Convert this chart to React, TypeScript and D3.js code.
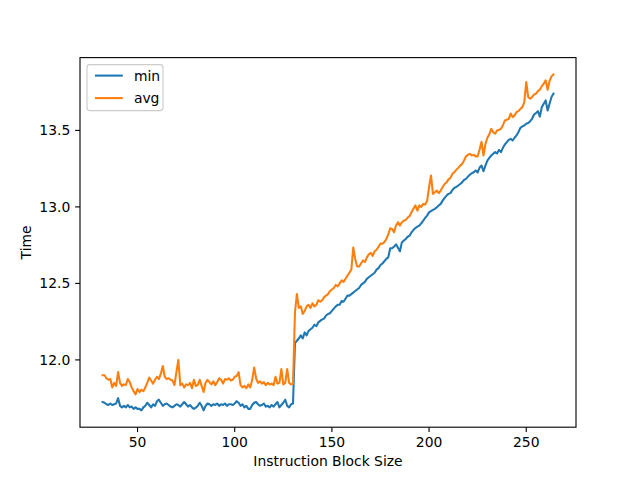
import React from "react";
import * as d3 from "d3";

const blockSizes: number[] = d3.range(32, 265);

const minTime: number[] = [
  // 32-79
  11.725, 11.72, 11.71, 11.705, 11.715, 11.705, 11.71, 11.715, 11.75, 11.70,
  11.69, 11.70, 11.69, 11.705, 11.69, 11.695, 11.68, 11.69, 11.68, 11.68,
  11.67, 11.69, 11.70, 11.72, 11.705, 11.69, 11.71, 11.70, 11.73, 11.74,
  11.72, 11.70, 11.71, 11.715, 11.705, 11.695, 11.69, 11.70, 11.71, 11.705,
  11.695, 11.71, 11.725, 11.71, 11.695, 11.705, 11.69, 11.68,
  // 80-130
  11.688, 11.70, 11.72, 11.70, 11.67, 11.70, 11.715, 11.71, 11.70, 11.71,
  11.705, 11.715, 11.70, 11.71, 11.705, 11.715, 11.70, 11.71, 11.71, 11.705,
  11.715, 11.73, 11.72, 11.70, 11.71, 11.69, 11.70, 11.68, 11.68, 11.705,
  11.72, 11.725, 11.71, 11.70, 11.705, 11.715, 11.695, 11.70, 11.69, 11.705,
  11.695, 11.71, 11.725, 11.69, 11.705, 11.72, 11.74, 11.70, 11.69, 11.71,
  11.715,
  // 131-180
  12.11, 12.125, 12.14, 12.16, 12.14, 12.18, 12.16, 12.19, 12.20, 12.21,
  12.23, 12.22, 12.245, 12.255, 12.265, 12.27, 12.29, 12.30, 12.305, 12.32,
  12.335, 12.35, 12.36, 12.36, 12.385, 12.38, 12.40, 12.42, 12.42, 12.43,
  12.44, 12.45, 12.46, 12.47, 12.49, 12.50, 12.51, 12.53, 12.54, 12.55,
  12.56, 12.57, 12.59, 12.60, 12.62, 12.63, 12.645, 12.66, 12.67, 12.73,
  // 181-227
  12.73, 12.74, 12.755, 12.733, 12.71, 12.768, 12.78, 12.79, 12.805, 12.812,
  12.834, 12.85, 12.862, 12.871, 12.878, 12.893, 12.91, 12.928, 12.943, 12.965,
  12.972, 12.98, 12.987, 12.998, 13.009, 13.02, 13.041, 13.059, 13.074, 13.085,
  13.09, 13.111, 13.124, 13.13, 13.14, 13.15, 13.16, 13.176, 13.183, 13.198,
  13.21, 13.22, 13.227, 13.238, 13.225, 13.257, 13.27,
  // 228-264
  13.233, 13.27, 13.303, 13.32, 13.336, 13.347, 13.358, 13.35, 13.372, 13.358,
  13.386, 13.408, 13.423, 13.438, 13.445, 13.434, 13.452, 13.467, 13.489, 13.517,
  13.526, 13.532, 13.543, 13.548, 13.56, 13.576, 13.604, 13.613, 13.626, 13.59,
  13.652, 13.674, 13.696, 13.63, 13.674, 13.718, 13.74,
];

const avgTime: number[] = [
  // 32-79
  11.90, 11.90, 11.88, 11.87, 11.875, 11.82, 11.85, 11.83, 11.92, 11.85,
  11.83, 11.84, 11.835, 11.875, 11.855, 11.82, 11.795, 11.775, 11.81, 11.79,
  11.805, 11.795, 11.82, 11.85, 11.885, 11.865, 11.845, 11.87, 11.89, 11.875,
  11.91, 11.96, 11.89, 11.875, 11.88, 11.87, 11.865, 11.835, 11.92, 12.00,
  11.835, 11.845, 11.82, 11.84, 11.835, 11.85, 11.815, 11.87,
  // 80-130
  11.83, 11.835, 11.87, 11.83, 11.79, 11.85, 11.87, 11.855, 11.84, 11.86,
  11.835, 11.855, 11.88, 11.87, 11.845, 11.875, 11.87, 11.88, 11.865, 11.87,
  11.89, 11.895, 11.92, 11.835, 11.82, 11.83, 11.815, 11.84, 11.82, 11.87,
  11.95, 11.88, 11.85, 11.86, 11.845, 11.855, 11.835, 11.85, 11.84, 11.845,
  11.835, 11.89, 11.845, 11.85, 11.94, 11.84, 11.85, 11.94, 11.85, 11.84,
  11.845,
  // 131-180
  12.31, 12.43, 12.34, 12.35, 12.30, 12.32, 12.35, 12.36, 12.34, 12.37,
  12.35, 12.36, 12.39, 12.38, 12.39, 12.41, 12.42, 12.43, 12.45, 12.46,
  12.47, 12.49, 12.48, 12.50, 12.52, 12.51, 12.53, 12.55, 12.57, 12.59,
  12.735, 12.66, 12.61, 12.61, 12.63, 12.65, 12.64, 12.67, 12.69, 12.70,
  12.68, 12.71, 12.72, 12.74, 12.76, 12.76, 12.77, 12.79, 12.82, 12.86,
  // 181-227
  12.856, 12.834, 12.878, 12.90, 12.878, 12.90, 12.91, 12.915, 12.93, 12.94,
  12.965, 12.99, 13.01, 12.976, 13.01, 13.00, 13.02, 13.015, 13.04, 13.13,
  13.205, 13.085, 13.096, 13.107, 13.09, 13.107, 13.13, 13.15, 13.16, 13.18,
  13.19, 13.216, 13.227, 13.242, 13.255, 13.27, 13.28, 13.303, 13.33, 13.34,
  13.347, 13.336, 13.34, 13.33, 13.33, 13.375, 13.426,
  // 228-264
  13.336, 13.41, 13.452, 13.474, 13.51, 13.488, 13.478, 13.50, 13.504, 13.51,
  13.533, 13.565, 13.57, 13.576, 13.61, 13.587, 13.598, 13.62, 13.626, 13.641,
  13.652, 13.685, 13.816, 13.718, 13.707, 13.718, 13.735, 13.74, 13.757, 13.766,
  13.788, 13.805, 13.827, 13.766, 13.823, 13.853, 13.866,
];

const seriesNames = ["min", "avg"];
const seriesColors = ["#1f77b4", "#ff7f0e"];
const xTicks = [50, 100, 150, 200, 250];
const yTicks = [12.0, 12.5, 13.0, 13.5];

const W = 640;
const H = 480;
const L = 80;
const R = 576;
const T = 57.6;
const B = 427.2;
const FONT = "'DejaVu Sans', sans-serif";
const FS = 13.9;

export default function App() {
  const allSeries = [minTime, avgTime];
  const xMin = d3.min(blockSizes)!;
  const xMax = d3.max(blockSizes)!;
  const xPad = (xMax - xMin) * 0.05;
  const allVals = allSeries.flat();
  const yMin = d3.min(allVals)!;
  const yMax = d3.max(allVals)!;
  const yPad = (yMax - yMin) * 0.05;

  const x = d3.scaleLinear().domain([xMin - xPad, xMax + xPad]).range([L, R]);
  const y = d3.scaleLinear().domain([yMin - yPad, yMax + yPad]).range([B, T]);

  const line = d3
    .line<number>()
    .x((_, i) => x(blockSizes[i]))
    .y((d) => y(d));

  const tickLen = 4.86;
  const sw = 1.11;

  const lgX = L + 7;
  const lgY = T + 7;
  const lgW = 76;
  const lgH = 46;

  return (
    <svg
      width={W}
      height={H}
      style={{ display: "block", position: "absolute", left: 0, top: 0 }}
      fontFamily={FONT}
    >
      <rect x={0} y={0} width={W} height={H} fill="#ffffff" />
      <defs>
        <clipPath id="plotclip">
          <rect x={L} y={T} width={R - L} height={B - T} />
        </clipPath>
      </defs>
      <g clipPath="url(#plotclip)">
        {allSeries.map((s, i) => (
          <path
            key={seriesNames[i]}
            d={line(s) || ""}
            fill="none"
            stroke={seriesColors[i]}
            strokeWidth={2.08}
            strokeLinejoin="round"
            strokeLinecap="square"
          />
        ))}
      </g>
      <rect x={L} y={T} width={R - L} height={B - T} fill="none" stroke="#000" strokeWidth={sw} />
      {xTicks.map((t) => (
        <g key={"x" + t}>
          <line x1={x(t)} x2={x(t)} y1={B} y2={B + tickLen} stroke="#000" strokeWidth={sw} />
          <text x={x(t)} y={B + 2 * tickLen + 10.5} textAnchor="middle" fontSize={FS} fill="#000">
            {t}
          </text>
        </g>
      ))}
      {yTicks.map((t) => (
        <g key={"y" + t}>
          <line x1={L - tickLen} x2={L} y1={y(t)} y2={y(t)} stroke="#000" strokeWidth={sw} />
          <text x={L - 2 * tickLen} y={y(t) + 5} textAnchor="end" fontSize={FS} fill="#000">
            {t.toFixed(1)}
          </text>
        </g>
      ))}
      <text x={(L + R) / 2} y={466} textAnchor="middle" fontSize={FS} fill="#000">
        Instruction Block Size
      </text>
      <text
        transform={`translate(31, ${(T + B) / 2}) rotate(-90)`}
        textAnchor="middle"
        fontSize={FS}
        fill="#000"
      >
        Time
      </text>
      <rect
        x={lgX}
        y={lgY}
        width={lgW}
        height={lgH}
        rx={2.8}
        fill="#ffffff"
        fillOpacity={0.8}
        stroke="#cccccc"
        strokeWidth={sw}
      />
      {seriesNames.map((n, i) => {
        const cy = lgY + 11 + i * 22.5;
        return (
          <g key={"lg" + n}>
            <line
              x1={lgX + 8}
              x2={lgX + 8 + 27.8}
              y1={cy}
              y2={cy}
              stroke={seriesColors[i]}
              strokeWidth={2.08}
            />
            <text x={lgX + 8 + 27.8 + 11.1} y={cy + 5} fontSize={FS} fill="#000">
              {n}
            </text>
          </g>
        );
      })}
    </svg>
  );
}
